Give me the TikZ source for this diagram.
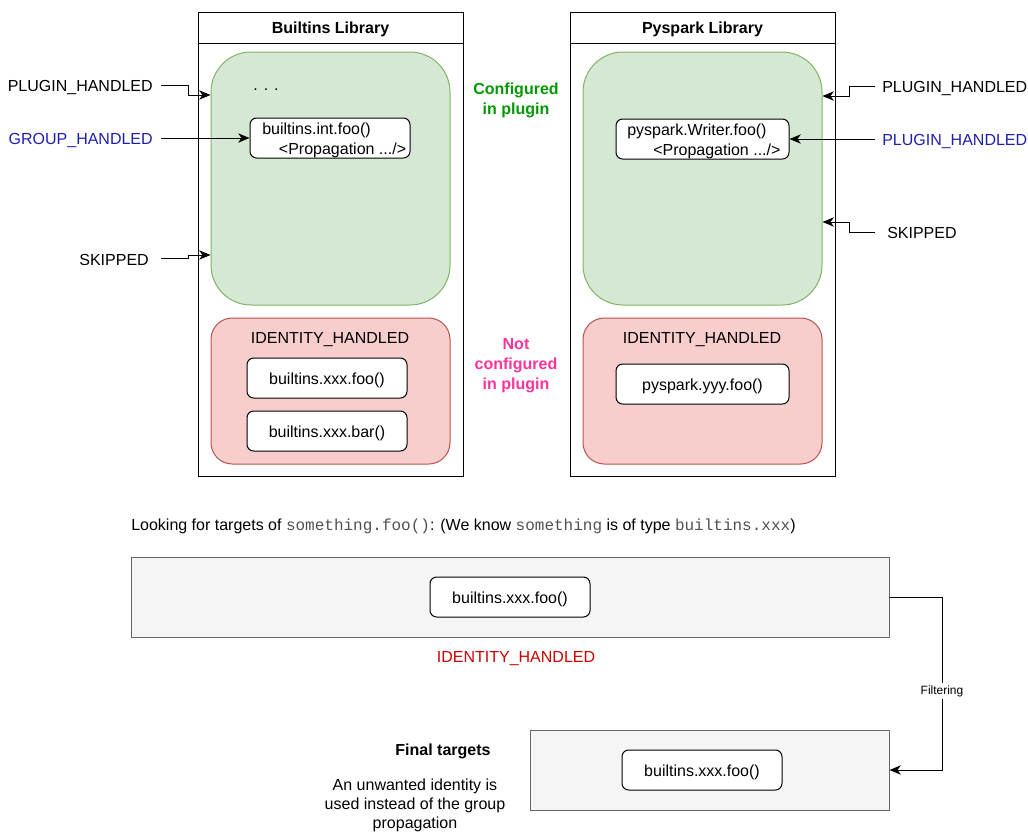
\documentclass[tikz,border=0pt]{standalone}
\usepackage{fontspec}
\setmainfont{Liberation Sans}
\setmonofont{Liberation Mono}
\usetikzlibrary{arrows.meta,fit}

\definecolor{grnfill}{HTML}{D5E8D4}
\definecolor{grnline}{HTML}{82B366}
\definecolor{redfill}{HTML}{F8CECC}
\definecolor{redline}{HTML}{B85450}
\definecolor{boxfill}{HTML}{F5F5F5}
\definecolor{boxline}{HTML}{666666}
\definecolor{bluetxt}{HTML}{1F1FAF}
\definecolor{cfgtxt}{HTML}{009900}
\definecolor{notcfg}{HTML}{FF3399}
\definecolor{idtxt}{HTML}{CC0000}
\definecolor{codetxt}{HTML}{505050}

\newcommand{\code}[1]{\textcolor{codetxt}{\texttt{#1}}}

\tikzset{
  lib/.style={draw=black, line width=0.75pt, fill=white, inner sep=0pt},
  grp/.style={draw=grnline, fill=grnfill, line width=0.75pt, rounded corners=30pt, inner sep=0pt},
  idgrp/.style={draw=redline, fill=redfill, line width=0.75pt, rounded corners=16pt, inner sep=0pt},
  fnbox/.style={draw=black, fill=white, line width=0.75pt, rounded corners=5pt, inner sep=0pt},
  panel/.style={draw=boxline, fill=boxfill, line width=0.75pt, inner sep=0pt},
  txt/.style={inner sep=0pt, yshift=-1.5pt, font=\fontsize{12pt}{15pt}\selectfont},
  arr/.style={line width=0.75pt, -{Stealth[length=8.5pt,width=7pt,inset=2.5pt]}},
}

\begin{document}
\begin{tikzpicture}[x=0.75pt,y=-0.75pt]
\useasboundingbox (0,0) rectangle (1028,833);

% ---------- Builtins library ----------
\node[lib, fit={(198,12)(463,476)}] (bl) {};
\node[lib, fit={(198,12)(463,43)}] (blt) {};
\node[txt, font=\fontsize{12pt}{15pt}\selectfont\bfseries] at (blt.center) {Builtins Library};
\node[grp, fit={(211,52)(450,305)}] (bg) {};
\node[idgrp, fit={(211,318)(450,464)}] (br) {};
\node[txt] at (330,338) {IDENTITY\_HANDLED};
\node[txt] at (266,88) {. . .};
\node[fnbox, fit={(250,118)(410,158)}] (bint) {};
\node[txt, anchor=west, align=left] at (262,138) {builtins.int.foo()\\\hspace*{12.5pt}<Propagation .../>};
\node[fnbox, fit={(247,358)(407,398)}] (bxf) {};
\node[txt] at (bxf.center) {builtins.xxx.foo()};
\node[fnbox, fit={(247,411)(407,451)}] (bxb) {};
\node[txt] at (bxb.center) {builtins.xxx.bar()};

% ---------- Pyspark library ----------
\node[lib, fit={(570,12)(835,476)}] (pl) {};
\node[lib, fit={(570,12)(835,43)}] (plt) {};
\node[txt, font=\fontsize{12pt}{15pt}\selectfont\bfseries] at (plt.center) {Pyspark Library};
\node[grp, fit={(583,52)(822,305)}] (pg) {};
\node[idgrp, fit={(583,318)(822,464)}] (pr) {};
\node[txt] at (702,338) {IDENTITY\_HANDLED};
\node[fnbox, fit={(616,119)(789,159)}] (pw) {};
\node[txt, anchor=west, align=left] at (627,139) {pyspark.Writer.foo()\\\hspace*{19.5pt}<Propagation .../>};
\node[fnbox, fit={(616,364)(789,404)}] (py) {};
\node[txt] at (py.center) {pyspark.yyy.foo()};

% ---------- middle captions ----------
\node[txt, align=center, text=cfgtxt, font=\fontsize{12pt}{15pt}\selectfont\bfseries] at (516,98) {Configured\\in plugin};
\node[txt, align=center, text=notcfg, font=\fontsize{12pt}{15pt}\selectfont\bfseries] at (516,364) {Not\\configured\\in plugin};

% ---------- left labels ----------
\node[txt, anchor=east] (lph) at (153,85) {PLUGIN\_HANDLED};
\node[txt, anchor=east, text=bluetxt] (lgh) at (153,138) {GROUP\_HANDLED};
\node[txt, anchor=east] (lsk) at (149,258) {SKIPPED};
\draw[arr] ([xshift=6pt]lph.east |- 0,85) -- (188,85) -- (188,95) -- (bg.west |- 0,95);
\draw[arr] ([xshift=6pt]lgh.east |- bint.west) -- (bint.west);
\draw[arr] ([xshift=9pt]lsk.east |- 0,258) -- (188,258) -- (188,255) -- (bg.west |- 0,255);

% ---------- right labels ----------
\node[txt, anchor=west] (rph) at (882,86) {PLUGIN\_HANDLED};
\node[txt, anchor=west, text=bluetxt] (rgh) at (882,139) {PLUGIN\_HANDLED};
\node[txt, anchor=west] (rsk) at (887,231) {SKIPPED};
\draw[arr] ([xshift=-5pt]rph.west |- 0,86) -- (849,86) -- (849,96) -- (pg.east |- 0,96);
\draw[arr] ([xshift=-5pt]rgh.west |- pw.east) -- (pw.east);
\draw[arr] ([xshift=-9pt]rsk.west |- 0,232) -- (849,232) -- (849,222) -- (pg.east |- 0,222);

% ---------- lookup ----------
\node[txt, anchor=west] (q) at (131,524) {Looking for targets of \code{something.foo()}: (We know \code{something} is of type \code{builtins.xxx})};
\node[panel, fit={(131,557)(889,637)}] (cand) {};
\node[fnbox, fit={(430,577)(590,617)}] (cf) {};
\node[txt] at (cf.center) {builtins.xxx.foo()};
\node[txt, text=idtxt] at (516,657) {IDENTITY\_HANDLED};

\node[panel, fit={(530,730)(889,810)}] (fin) {};
\node[fnbox, fit={(622,750)(782,790)}] (ff) {};
\node[txt] at (ff.center) {builtins.xxx.foo()};
\node[txt, font=\fontsize{12pt}{15pt}\selectfont\bfseries] at (443,749) {Final targets};
\node[txt, align=center, font=\fontsize{12pt}{14.3pt}\selectfont] at (415,803) {An unwanted identity is\\used instead of the group\\propagation};

\draw[arr] (cand.east) -- (942,597) |- (fin.east);
\node[txt, fill=white, inner sep=1.5pt, font=\fontsize{9pt}{11pt}\selectfont] (flt) at (942,689) {Filtering};
\end{tikzpicture}
\end{document}
